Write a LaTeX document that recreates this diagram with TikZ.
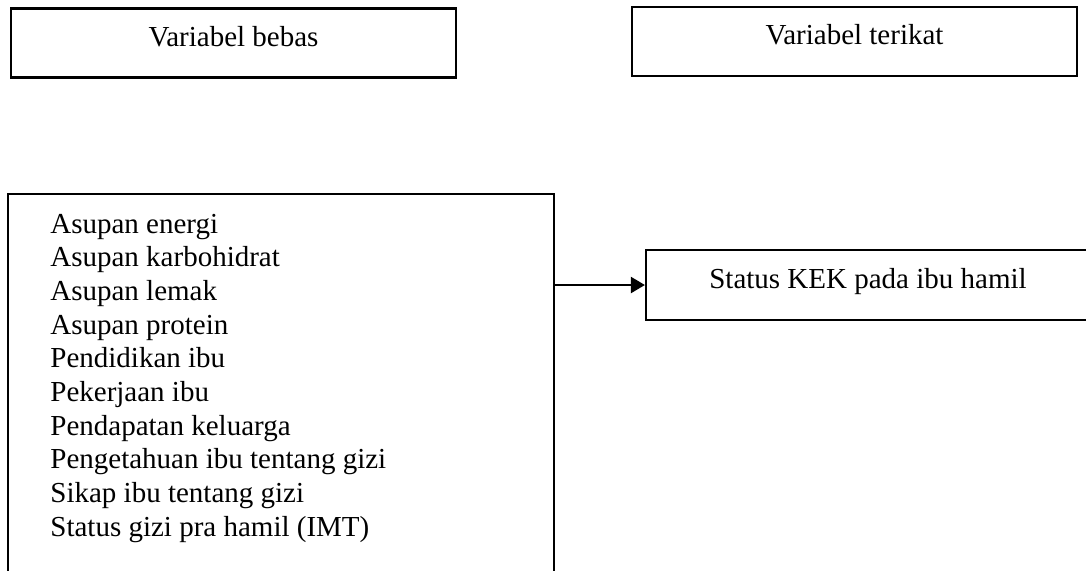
\documentclass[tikz,border=0pt]{standalone}
\usepackage{fontspec}
\setmainfont{Liberation Serif}
\usetikzlibrary{arrows.meta}

\begin{document}
\begin{tikzpicture}[x=0.5pt,y=-0.5pt,
    font=\fontsize{14.5}{16.8}\selectfont,
    box/.style={draw,line width=1.1pt,minimum width=222.5pt,minimum height=34.5pt,
      text height=8pt,text depth=5pt,inner sep=0pt},
    item/.style={anchor=base west,inner sep=0pt}]
  \useasboundingbox (0,0) rectangle (1086,570);
  \clip (0,0) rectangle (1086,570);
  \node[box] (bebas) at (233.5,43) {Variabel bebas};
  \node[box] (terikat) at (854.5,41.5) {Variabel terikat};
  \node[draw,line width=1.1pt,minimum width=273pt,minimum height=210pt,inner sep=0pt]
    (daftar) at (281,404) {};
  \foreach \name [count=\i from 0] in {Asupan energi,Asupan karbohidrat,Asupan lemak,
      Asupan protein,Pendidikan ibu,Pekerjaan ibu,Pendapatan keluarga,
      Pengetahuan ibu tentang gizi,Sikap ibu tentang gizi,Status gizi pra hamil (IMT)}
    \node[item] (var\i) at (50,233+33.67*\i) {\name};
  \node[box,minimum width=222pt,minimum height=35pt] (kek) at (868,285)
    {Status KEK pada ibu hamil};
  \draw[-{Triangle[length=7pt,width=8pt]},line width=1.1pt]
    (kek.west -| daftar.east) -- (kek.west);
\end{tikzpicture}
\end{document}
